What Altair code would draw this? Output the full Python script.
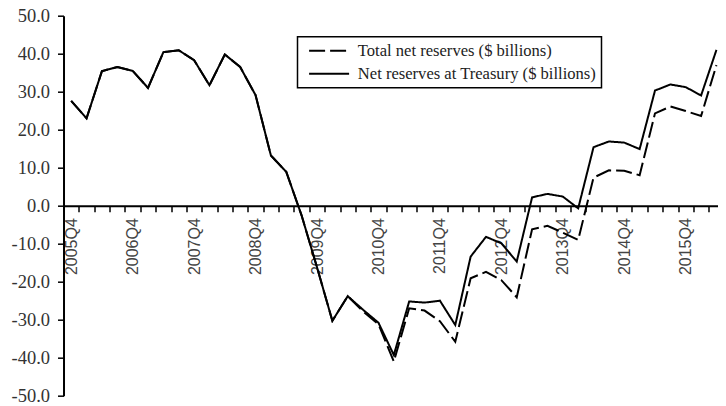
import altair as alt
import pandas as pd

quarters = [f"{y}Q{q}" for y in range(2005, 2017) for q in range(1, 5)][3:3 + 43]

treasury = [27.6, 23.0, 35.4, 36.5, 35.5, 31.0, 40.4, 40.9, 38.3, 31.7, 39.8, 36.5, 29.1, 13.2, 8.9,
            -2.6, -16.2, -30.3, -23.8, -27.4, -30.8, -39.3, -25.2, -25.5, -25.0, -31.4, -13.4, -8.2,
            -9.9, -14.7, 2.2, 3.1, 2.4, -0.7, 15.4, 16.9, 16.6, 14.9, 30.3, 31.9, 31.2, 29.0, 41.0]
total = [27.6, 23.0, 35.4, 36.5, 35.5, 31.0, 40.4, 40.9, 38.3, 31.7, 39.8, 36.5, 29.1, 13.2, 8.9,
         -2.6, -16.2, -30.3, -23.8, -27.8, -31.2, -41.0, -27.0, -27.6, -30.4, -35.8, -19.1, -17.4,
         -19.6, -24.1, -6.2, -5.3, -7.1, -9.0, 7.4, 9.3, 9.2, 8.0, 24.3, 26.1, 24.9, 23.6, 37.0]

series_names = ["Total net reserves ($ billions)", "Net reserves at Treasury ($ billions)"]
y_ticks = [-50, -40, -30, -20, -10, 0, 10, 20, 30, 40, 50]
x_tick_labels = [q if q.endswith("Q4") else "" for q in quarters]

rows = []
for i, q in enumerate(quarters):
    rows.append({"quarter": q, "pos": i + 0.5, "series": series_names[0], "value": total[i]})
    rows.append({"quarter": q, "pos": i + 0.5, "series": series_names[1], "value": treasury[i]})
df = pd.DataFrame(rows)

n = len(quarters)
label_js = "[" + ",".join(f"'{t}'" for t in x_tick_labels) + "]"
x_label_expr = f"datum.value < {n} ? {label_js}[datum.value] : ''"
y_label_expr = "(datum.value < 0 ? '-' : '') + format(abs(datum.value), '.1f')"

legend = alt.Legend(
    orient="none", legendX=234, legendY=21, title=None, direction="vertical",
    symbolType="M-2.5,0L2.5,0", symbolSize=256, symbolStrokeWidth=2, symbolOffset=17.6,
    labelOffset=19.7, labelFont="Liberation Serif", labelFontSize=16.6, labelColor="#222222",
    padding=5, rowPadding=5, strokeColor="black", fillColor="white", labelLimit=0,
)

chart = alt.Chart(df).mark_line(strokeWidth=2).encode(
    x=alt.X("pos:Q", scale=alt.Scale(domain=[0, 42.6], nice=False, zero=False),
            axis=alt.Axis(values=list(range(n)), labelExpr=x_label_expr, labelAngle=270,
                          labelOffset=7.68, offset=-190, orient="bottom", tickSize=6, tickWidth=1.5,
                          tickColor="black", domainColor="black", domainWidth=2,
                          labelFont="Liberation Sans", labelFontSize=16, labelColor="#444444",
                          labelPadding=6, title=None, grid=False, labelOverlap=False,
                          labelFlush=False)),
    y=alt.Y("value:Q", scale=alt.Scale(domain=[-50, 50], nice=False, zero=False),
            axis=alt.Axis(values=y_ticks, labelExpr=y_label_expr, tickSize=6, labelPadding=8,
                          labelFont="Liberation Serif", labelFontSize=18.5, labelColor="#333333",
                          domainWidth=2, domainColor="black", tickColor="black", tickWidth=1.5,
                          grid=False, title=None)),
    stroke=alt.Stroke("series:N", scale=alt.Scale(domain=series_names, range=["black", "black"]),
                      legend=legend),
    strokeDash=alt.StrokeDash("series:N", scale=alt.Scale(domain=series_names, range=[[16, 5], [1, 0]]),
                              legend=legend),
).properties(
    width=654.5, height=380,
    autosize=alt.AutoSizeParams(type="none"),
    padding={"left": 55.5, "top": 7.7, "right": 0, "bottom": 10},
).configure_view(stroke=None).configure_legend(strokeWidth=1.5)

chart.save("out.html", embed_options={"renderer": "svg", "actions": False})
